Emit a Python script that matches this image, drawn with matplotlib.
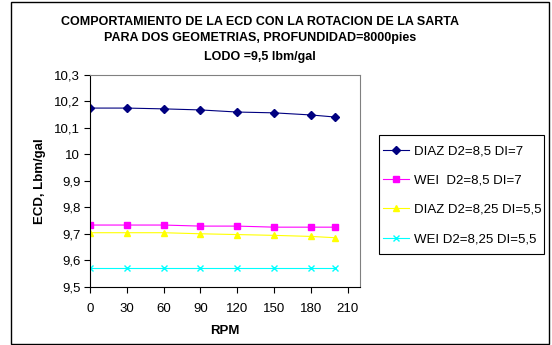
import matplotlib.pyplot as plt
from matplotlib.patches import Rectangle

plt.rcParams['font.family'] = ['Liberation Sans', 'DejaVu Sans']

rpm = [0, 30, 60, 90, 120, 150, 180, 200]
diaz_85 = [10.175, 10.175, 10.172, 10.168, 10.160, 10.157, 10.149, 10.141]
wei_85 = [9.733, 9.733, 9.733, 9.729, 9.729, 9.725, 9.725, 9.725]
diaz_825 = [9.704, 9.704, 9.704, 9.700, 9.697, 9.694, 9.690, 9.685]
wei_825 = [9.571, 9.571, 9.571, 9.571, 9.571, 9.571, 9.571, 9.571]

labels = ['DIAZ D2=8,5 DI=7', 'WEI  D2=8,5 DI=7',
          'DIAZ D2=8,25 DI=5,5', 'WEI D2=8,25 DI=5,5']
x_ticks = [0, 30, 60, 90, 120, 150, 180, 210]
y_ticks = [9.5, 9.6, 9.7, 9.8, 9.9, 10.0, 10.1, 10.2, 10.3]
y_ticklabels = ['9,5', '9,6', '9,7', '9,8', '9,9', '10', '10,1', '10,2', '10,3']

W, H = 552, 345
fig = plt.figure(figsize=(W / 100, H / 100), dpi=100)
ax = fig.add_axes([90 / W, 1 - 286.7 / H, 270 / W, 211.7 / H])

# outer chart border and legend box
fig.patches.append(Rectangle((11 / W, 1.5 / H), 538 / W, 341.5 / H,
                             transform=fig.transFigure, fill=False,
                             edgecolor='black', linewidth=1.0))
fig.patches.append(Rectangle((379 / W, 1 - 254 / H), 165 / W, 119 / H,
                             transform=fig.transFigure, fill=False,
                             edgecolor='black', linewidth=0.8))

ax.plot(rpm, diaz_85, color='#000080', marker='D', ms=4, lw=0.8, label=labels[0])
ax.plot(rpm, wei_85, color='#FF00FF', marker='s', ms=4.5, lw=0.8, label=labels[1])
ax.plot(rpm, diaz_825, color='#FFFF00', marker='^', ms=5, lw=0.8, label=labels[2])
ax.plot(rpm, wei_825, color='#00FFFF', marker='x', ms=5, mew=1, lw=0.8, label=labels[3])

ax.set_xlim(0, 220)
ax.set_ylim(9.5, 10.3)
ax.set_xticks(x_ticks)
ax.set_yticks(y_ticks)
ax.set_yticklabels(y_ticklabels)
ax.tick_params(labelsize=9.5, length=4, width=0.8, direction='out', pad=3)
ax.tick_params(axis='x', pad=8)

for side in ['top', 'right']:
    ax.spines[side].set_color('#808080')
    ax.spines[side].set_linewidth(0.8)
for side in ['left', 'bottom']:
    ax.spines[side].set_color('black')
    ax.spines[side].set_linewidth(0.8)

ax.set_xlabel('RPM', fontsize=9.5, fontweight='bold', labelpad=7)
ax.set_ylabel('ECD, Lbm/gal', fontsize=9.5, fontweight='bold', labelpad=6)

title_lines = ['COMPORTAMIENTO DE LA ECD CON LA ROTACION DE LA SARTA',
               'PARA DOS GEOMETRIAS, PROFUNDIDAD=8000pies',
               'LODO =9,5 lbm/gal']
for text, y in zip(title_lines, [22, 38.5, 57]):
    fig.text(260 / W, 1 - y / H, text, ha='center', va='center',
             fontsize=9, fontweight='bold')

fig.legend(loc='upper left', bbox_to_anchor=(379 / W, 1 - 141 / H),
           fontsize=9.5, frameon=False, borderaxespad=0,
           handlelength=2.0, handletextpad=0.35,
           labelspacing=1.3, borderpad=0.3)

fig.savefig('out.png', dpi=100)
